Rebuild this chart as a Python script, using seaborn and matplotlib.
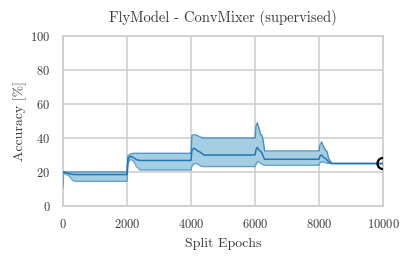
import numpy as np
import pandas as pd
import matplotlib
matplotlib.use("Agg")
import matplotlib.pyplot as plt
import seaborn as sns

# ── data (accuracy in %, per split epoch) ──
epochs = [0, 20, 100, 200, 300, 400, 1990,
          2000, 2030, 2100, 2200, 2300, 2400, 3990,
          4000, 4030, 4100, 4200, 4300, 4400, 5990,
          6000, 6030, 6070, 6120, 6180, 6220, 6260, 6300, 7990,
          8000, 8030, 8080, 8150, 8200, 8250, 8300, 8400, 10000]

acc_mean = [20.0, 19.8, 19.5, 19.0, 18.6, 18.5, 18.5,
            18.5, 27.5, 29.3, 28.5, 27.2, 26.8, 26.8,
            26.8, 33.0, 34.0, 32.5, 31.5, 30.0, 30.0,
            30.0, 33.0, 34.5, 33.0, 32.0, 31.0, 29.0, 27.5, 27.5,
            27.5, 29.5, 30.0, 28.5, 28.0, 27.0, 26.0, 25.0, 25.0]

acc_upper = [20.0, 20.0, 20.0, 20.0, 20.0, 20.0, 20.0,
             20.0, 29.5, 30.5, 31.0, 31.0, 31.0, 31.0,
             31.0, 41.5, 42.0, 41.5, 40.5, 40.0, 40.0,
             40.0, 47.0, 49.0, 46.0, 42.0, 41.5, 38.0, 32.4, 32.4,
             32.4, 36.0, 37.8, 34.5, 33.0, 32.0, 28.0, 25.0, 25.0]

acc_lower = [11.0, 19.5, 18.5, 17.5, 15.0, 14.5, 14.5,
             14.5, 25.0, 27.5, 26.5, 23.0, 21.2, 21.2,
             21.2, 23.5, 25.0, 24.8, 23.5, 23.2, 23.2,
             23.2, 24.5, 26.0, 26.0, 25.0, 24.5, 24.2, 24.0, 24.0,
             24.0, 25.5, 26.0, 25.8, 25.5, 25.0, 25.0, 25.0, 25.0]

final_epoch = [10000]
final_acc = [25.0]

df = pd.DataFrame({"epoch": epochs, "mean": acc_mean,
                   "upper": acc_upper, "lower": acc_lower})

# ── style ──
sns.set_theme(style="whitegrid", rc={
    "axes.edgecolor": "#cccccc",
    "axes.linewidth": 1.2,
    "grid.color": "#cccccc",
    "grid.linewidth": 1.1,
    "axes.formatter.use_mathtext": True,
})
plt.rcParams["font.family"] = ["cmr10", "DejaVu Serif"]
plt.rcParams["mathtext.fontset"] = "cm"

LINE = "#1f78b4"
FILL = "#a6cee3"
TXT = "#3a3a3a"

fig = plt.figure(figsize=(4.15, 2.61), dpi=100)
ax = fig.add_axes([0.1518, 0.2107, 0.923 - 0.1518, 0.862 - 0.2107])

ax.fill_between(df["epoch"], df["lower"], df["upper"], color=FILL, lw=0, zorder=2)
sns.lineplot(data=df, x="epoch", y="upper", ax=ax, color=LINE, lw=1.0, alpha=0.75, zorder=3)
sns.lineplot(data=df, x="epoch", y="lower", ax=ax, color=LINE, lw=1.0, alpha=0.55, zorder=3)
sns.lineplot(data=df, x="epoch", y="mean", ax=ax, color=LINE, lw=1.1, zorder=4)
# final marker sits on the right edge, so only its left half shows
ax.scatter(final_epoch, final_acc, s=64, facecolors="none", edgecolors="black",
           linewidths=1.6, zorder=5, clip_on=True)

ax.set_xlim(0, 10000)
ax.set_ylim(0, 100)
ax.set_xticks([0, 2000, 4000, 6000, 8000, 10000])
ax.set_yticks([0, 20, 40, 60, 80, 100])
ax.tick_params(axis="both", length=0, labelsize=9, labelcolor=TXT)
ax.tick_params(axis="x", pad=8.5)
ax.tick_params(axis="y", pad=9)

ax.set_title("FlyModel - ConvMixer (supervised)", fontsize=10.5, color=TXT, pad=10)
ax.set_xlabel("Split Epochs", fontsize=10, color=TXT, labelpad=5)
ax.set_ylabel("Accuracy [%]", fontsize=10, color=TXT, labelpad=2)

fig.savefig("out.png", dpi=100)
plt.close(fig)
